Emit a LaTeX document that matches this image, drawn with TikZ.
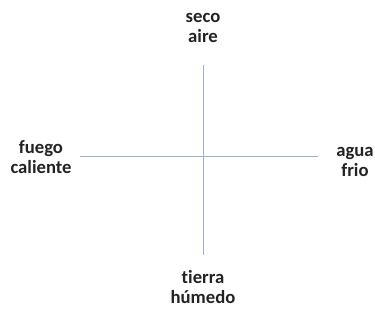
\documentclass[tikz,border=0pt]{standalone}
\usepackage{fontspec}
\setmainfont[Ligatures=NoCommon]{Carlito}
\definecolor{axis}{RGB}{150,178,205}
\definecolor{txt}{RGB}{35,35,35}
\begin{document}
\begin{tikzpicture}[x=0.75pt,y=-0.75pt,
  lbl/.style={font=\bfseries\fontsize{14}{15.5}\selectfont, text=txt, align=center, inner sep=0pt},
  ax/.style={draw=axis, line width=0.7pt}]
\useasboundingbox (0,0) rectangle (375,324);
\node[lbl] (top) at (203,28) {seco\\aire};
\node[lbl] (left) at (41,157) {fuego\\caliente};
\node[lbl] (right) at (355,162) {agua\\frio};
\node[lbl] (bot) at (203,287) {tierra\\húmedo};
\coordinate (vt) at (203,65);
\coordinate (vb) at (203,255);
\coordinate (hl) at (80,156);
\coordinate (hr) at (318,156);
\draw[ax] (vt) -- (vb);
\draw[ax] (hl) -- (hr);
\end{tikzpicture}
\end{document}
